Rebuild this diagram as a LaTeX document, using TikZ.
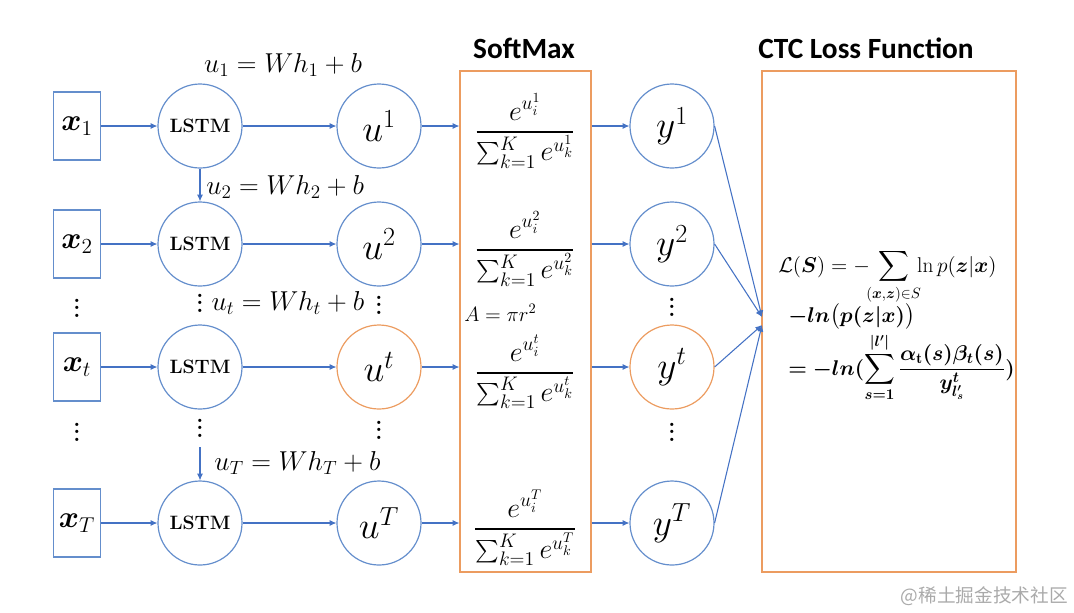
\RequirePackage{fix-cm}
\documentclass[tikz,border=0pt]{standalone}
\usepackage{amsmath,amssymb,bm,graphicx}
\usepackage{fontspec}
\newfontfamily\titlefont{Carlito}
\newfontfamily\cjk{Noto Sans CJK SC}
\usetikzlibrary{arrows.meta}
\definecolor{cblue}{RGB}{100,142,204}
\definecolor{ablue}{RGB}{68,114,196}
\definecolor{corange}{RGB}{236,156,96}
\definecolor{wgray}{RGB}{170,170,170}
\newcommand{\mydots}{\vbox{\baselineskip=5.6pt\lineskiplimit=-10pt\hbox{.}\hbox{.}\hbox{.}}}
\newcommand{\smsum}{\mathop{\vcenter{\hbox{\scalebox{0.8}{$\sum$}}}}\nolimits}
\begin{document}
\begin{tikzpicture}[x=0.75pt,y=-0.75pt,
  circ/.style={circle,draw=cblue,line width=0.9pt,minimum size=63pt,inner sep=0pt},
  ocirc/.style={circ,draw=corange},
  xbox/.style={draw=cblue,line width=0.9pt,minimum width=35.25pt,minimum height=51pt,inner sep=0pt,font=\fontsize{23}{25}\selectfont},
  lstm/.style={circ,font=\fontsize{14.5}{16}\selectfont\bfseries},
  ucirc/.style={font=\fontsize{28}{30}\selectfont},
  arr/.style={draw=ablue,line width=0.8pt,-{Latex[length=5pt,width=4.5pt]}},
  lab/.style={font=\fontsize{20.5}{23}\selectfont,inner sep=0pt},
  dots/.style={font=\fontsize{17}{18}\selectfont\bfseries,inner sep=0pt},
  frac/.style={font=\fontsize{21}{24}\selectfont,inner sep=0pt},
  panel/.style={draw=corange,line width=0.9pt},
  ttl/.style={font=\fontsize{22}{24}\selectfont\titlefont\bfseries},
  ctcf/.style={font=\fontsize{16}{18}\selectfont,inner sep=0pt,anchor=base west}
]
\useasboundingbox (0,0) rectangle (1074,612);

% panels
\node[panel,minimum width=98.25pt,minimum height=375.75pt] (sm) at (525.5,321.5) {};
\node[panel,minimum width=190.5pt,minimum height=375.75pt] (ctc) at (889,321.5) {};
\node[ttl] (tsm) at (524,48) {SoftMax};
\node[ttl] (tctc) at (866,48) {CTC Loss Function};

% row 1
\node[xbox] (x1) at (77,126) {$\bm{x}_1$};
\node[lstm] (l1) at (200,126) {LSTM};
\node[circ,ucirc] (u1) at (379,126) {$u^1$};
\node[frac] (f1) at (525,131) {$\dfrac{e^{u_i^1}}{\smsum_{k=1}^{K} e^{u_k^1}}$};
\node[circ,ucirc] (y1) at (672,126) {$y^1$};
% row 2
\node[xbox] (x2) at (77,244) {$\bm{x}_2$};
\node[lstm] (l2) at (200,244) {LSTM};
\node[circ,ucirc] (u2) at (379,244) {$u^2$};
\node[frac] (f2) at (525,249) {$\dfrac{e^{u_i^2}}{\smsum_{k=1}^{K} e^{u_k^2}}$};
\node[circ,ucirc] (y2) at (672,244) {$y^2$};
% row t
\node[xbox] (xt) at (77,367) {$\bm{x}_t$};
\node[lstm] (lt) at (200,367) {LSTM};
\node[ocirc,ucirc] (ut) at (379,367) {$u^t$};
\node[frac] (ft) at (525,372) {$\dfrac{e^{u_i^t}}{\smsum_{k=1}^{K} e^{u_k^t}}$};
\node[ocirc,ucirc] (yt) at (672,367) {$y^t$};
% row T
\node[xbox] (xT) at (77,523) {$\bm{x}_T$};
\node[lstm] (lT) at (200,523) {LSTM};
\node[circ,ucirc] (uT) at (379,523) {$u^T$};
\node[frac] (fT) at (525,528) {$\dfrac{e^{u_i^T}}{\smsum_{k=1}^{K} e^{u_k^T}}$};
\node[circ,ucirc] (yT) at (672,523) {$y^T$};

% labels
\node[lab] (e1) at (283,65) {$u_1 = Wh_1 + b$};
\node[lab,anchor=west] (e2) at (206,187) {$u_2 = Wh_2 + b$};
\node[lab] (et) at (288,303) {$u_t = Wh_t + b$};
\node[lab,anchor=west] (eT) at (214,463) {$u_T = Wh_T + b$};
\node[font=\fontsize{15.5}{17}\selectfont,inner sep=0pt,anchor=west] (area) at (464,313) {$A = \pi r^2$};

% dots
\node[dots] (d1) at (77,308) {\mydots};
\node[dots] (d2) at (77,432) {\mydots};
\node[dots] (d3) at (200,303) {\mydots};
\node[dots] (d4) at (200,428) {\mydots};
\node[dots] (d5) at (379,305) {\mydots};
\node[dots] (d6) at (379,430) {\mydots};
\node[dots] (d7) at (672,307) {\mydots};
\node[dots] (d8) at (672,432) {\mydots};

% horizontal arrows
\foreach \r in {1,2,t,T}{
  \draw[arr] (x\r) -- (l\r);
  \draw[arr] (l\r) -- (u\r);
  \draw[arr] (u\r) -- (u\r -| sm.west);
  \draw[arr] (sm.east |- y\r) -- (y\r);
}
% vertical arrows
\draw[arr] (l1) -- (l2);
\coordinate (vT) at (200,447);
\draw[arr] (vT) -- (lT);

% to CTC
\coordinate (c1) at (762,317);
\coordinate (c2) at (762,325);
\draw[arr] (y1.east) -- (c1);
\draw[arr] (y2.east) -- (c1);
\draw[arr] (yt.east) -- (c2);
\draw[arr] (yT.east) -- (c2);

% CTC formula
\node[ctcf] (L1) at (778,272) {$\displaystyle\mathcal{L}(\bm{S}) = -\!\!\sum_{(\bm{x},\bm{z})\in S}\!\! \ln p(\bm{z}\vert\bm{x})$};
\node[ctcf] (L2) at (788,322) {$\bm{-ln}\bm{\bigl(}\bm{p}\bm{(}\bm{z}\bm{\vert}\bm{x}\bm{)}\bm{\bigr)}$};
\node[ctcf] (L3) at (788,375) {$\displaystyle\bm{=}\bm{-ln}\bm{(}\sum_{\bm{s=1}}^{\bm{\vert l'\vert}}\frac{\bm{\alpha}_{\mathbf{t}}\bm{(s)}\bm{\beta}_{\bm{t}}\bm{(s)}}{\bm{y}^{\bm{t}}_{\bm{l'_s}}}\bm{)}$};

% watermark
\node[font=\fontsize{14}{16}\selectfont\cjk,text=wgray,anchor=east,inner sep=0pt] (wm) at (1068,596) {@稀土掘金技术社区};
\end{tikzpicture}
\end{document}
